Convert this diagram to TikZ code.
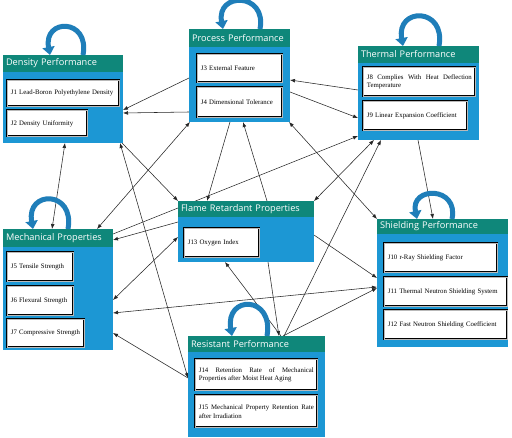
\documentclass[tikz,border=0pt]{standalone}
\usepackage{fontspec}
\setmainfont{Liberation Serif}
\newfontfamily\hdrfont{Open Sans}
\usetikzlibrary{arrows.meta,calc}
\pgfdeclarelayer{bg}
\pgfsetlayers{bg,main}
\definecolor{hdrteal}{HTML}{0F877A}
\definecolor{bodyblue}{HTML}{1C97D4}
\definecolor{loopblue}{HTML}{1F7EB9}
\newcommand\myitemfont{\fontsize{6.8}{8.8}\selectfont\hyphenpenalty=10000 \exhyphenpenalty=10000 \relax}
\begin{document}
\begin{tikzpicture}[x=1pt,y=-1pt,
 grp/.style={fill=bodyblue, inner sep=0pt, outer sep=0pt, anchor=north west},
 hdr/.style={fill=hdrteal, text=white, inner sep=0pt, inner xsep=3pt, outer sep=0pt, anchor=north west, align=left, font=\hdrfont\fontsize{9.2}{11}\selectfont},
 item/.style={draw=black, double=gray!55, double distance=0.7pt, line width=0.75pt, fill=white, inner sep=0pt, inner xsep=3.5pt, anchor=north west, font=\myitemfont, align=left},
 itemj/.style={item, align=justify},
 con/.style={draw=black!85, line width=0.55pt, -{Latex[length=5pt,width=3.8pt]}},
 bicon/.style={con, {Latex[length=5pt,width=3.8pt]}-{Latex[length=5pt,width=3.8pt]}},
 selfloop/.style={draw=loopblue, line width=5pt, -{Triangle[width=12pt,length=8pt]}}
]
\useasboundingbox (0,0) rectangle (512,438);
\begin{pgfonlayer}{bg}
\fill[white] (0,0) rectangle (512,438);
\end{pgfonlayer}

% groups
\node[grp, minimum width=120pt, minimum height=88pt] (dens) at (3,55) {};
\node[hdr, minimum height=17pt, text width=114pt] (densh) at (3,55) {Density Performance};
\node[grp, minimum width=101pt, minimum height=93pt] (proc) at (189,29) {};
\node[hdr, minimum height=18pt, text width=95pt] (proch) at (189,29) {Process Performance};
\node[grp, minimum width=121pt, minimum height=94pt] (therm) at (358,46) {};
\node[hdr, minimum height=17pt, text width=115pt] (thermh) at (358,46) {Thermal Performance};
\node[grp, minimum width=110pt, minimum height=121pt] (mech) at (3,229) {};
\node[hdr, minimum height=18pt, text width=104pt] (mechh) at (3,229) {Mechanical Properties};
\node[grp, minimum width=136pt, minimum height=61pt] (flame) at (178,201) {};
\node[hdr, minimum height=16pt, text width=130pt] (flameh) at (178,201) {Flame Retardant Properties};
\node[grp, minimum width=131pt, minimum height=128pt] (shield) at (377,219) {};
\node[hdr, minimum height=15pt, text width=125pt] (shieldh) at (377,219) {Shielding Performance};
\node[grp, minimum width=137pt, minimum height=101pt] (resist) at (188,336) {};
\node[hdr, minimum height=16pt, text width=131pt] (resisth) at (188,336) {Resistant Performance};

% items
\node[item, minimum width=112pt, minimum height=26pt, text width=105pt] (j1) at (7,80) {\mbox{J1 Lead-Boron Polyethylene Density}};
\node[item, minimum width=80pt, minimum height=26pt, text width=73pt] (j2) at (7,110) {\mbox{J2 Density Uniformity}};
\node[item, minimum width=85pt, minimum height=28pt, text width=78pt] (j3) at (197,54) {\mbox{J3 External Feature}};
\node[item, minimum width=85pt, minimum height=30pt, text width=78pt] (j4) at (197,87) {\mbox{J4 Dimensional Tolerance}};
\node[itemj, minimum width=112pt, minimum height=29pt, text width=105pt] (j8) at (363,67) {J8 Complies With Heat Deflection\linebreak Temperature};
\node[item, minimum width=104pt, minimum height=29pt, text width=97pt] (j9) at (363,101) {\mbox{J9 Linear Expansion Coefficient}};
\node[item, minimum width=66pt, minimum height=29pt, text width=59pt] (j5) at (7,252) {\mbox{J5 Tensile Strength}};
\node[item, minimum width=66pt, minimum height=29pt, text width=59pt] (j6) at (7,286) {\mbox{J6 Flexural Strength}};
\node[item, minimum width=77pt, minimum height=28pt, text width=70pt] (j7) at (7,319) {\mbox{J7 Compressive Strength}};
\node[item, minimum width=75pt, minimum height=29pt, text width=68pt] (j13) at (184,228) {\mbox{J13 Oxygen Index}};
\node[item, minimum width=113pt, minimum height=29pt, text width=106pt] (j10) at (384,243) {\mbox{J10 r-Ray Shielding Factor}};
\node[item, minimum width=123pt, minimum height=29pt, text width=116pt] (j11) at (384,277) {\mbox{J11 Thermal Neutron Shielding System}};
\node[item, minimum width=123pt, minimum height=29pt, text width=116pt] (j12) at (384,310) {\mbox{J12 Fast Neutron Shielding Coefficient}};
\node[itemj, minimum width=122pt, minimum height=31pt, text width=115pt] (j14) at (195,359) {J14 Retention Rate of Mechanical\linebreak Properties after Moist Heat Aging};
\node[itemj, minimum width=122pt, minimum height=32pt, text width=115pt] (j15) at (195,395) {J15 Mechanical Property Retention Rate\linebreak after Irradiation};

% self loops
\draw[selfloop] (densh.north -| 83,0) .. controls (90,18) and (43,18) .. (densh.north -| 50,0);
\draw[selfloop] (proch.north -| 260,0) .. controls (267,-8) and (216,-8) .. (proch.north -| 223,0);
\draw[selfloop] (thermh.north -| 439,0) .. controls (446,7) and (396,7) .. (thermh.north -| 403,0);
\draw[selfloop] (mechh.north -| 68,0) .. controls (75,190) and (26,190) .. (mechh.north -| 33,0);
\draw[selfloop] (shieldh.north -| 452,0) .. controls (459,186) and (410,186) .. (shieldh.north -| 417,0);
\draw[selfloop] (resisth.north -| 267,0) .. controls (274,295) and (225,295) .. (resisth.north -| 232,0);

% connectors
\begin{pgfonlayer}{bg}
\draw[con] (proc.west |- 0,78) -- (dens.east |- 0,110);
\draw[con] (proc.west |- 0,112) -- (dens.east |- 0,113);
\draw[bicon] (dens.south -| 65,0) -- (mech.north -| 52,0);
\draw[bicon] (dens.south -| 120,0) -- (resist.west |- 0,378);
\draw[con] (dens.south -| 122,0) -- (flame.north west);
\draw[bicon] (proc.south -| 190,0) -- (mech.north -| 97,0);
\draw[con] (proc.south -| 230,0) -- (flame.north -| 207,0);
\draw[con] (flame.north -| 267,0) -- (proc.south -| 243,0);
\draw[bicon] (proc.south -| 289,0) -- (shield.north west);
\draw[con] (therm.west |- 0,90) -- (proc.east |- 0,80);
\draw[con] (proc.east |- 0,92) -- (therm.west |- 0,118);
\draw[con] (mech.east |- 0,234) -- (therm.west |- 0,136);
\draw[bicon] (flame.north east) -- (therm.south -| 374,0);
\draw[con] (resist.north -| 284,0) -- (therm.south -| 381,0);
\draw[con] (therm.south -| 418,0) -- (shield.north -| 433,0);
\draw[con] (flame.west |- 0,222) -- (mech.east |- 0,240);
\draw[bicon] (flame.west |- 0,237) -- (mech.east |- 0,300);
\draw[con] (flame.east |- 0,235) -- (shield.west |- 0,278);
\draw[bicon] (mech.east |- 0,313) -- (shield.west |- 0,287);
\draw[con] (resist.north -| 283,0) -- (shield.west |- 0,288);
\draw[con] (flame.south -| 268,0) -- (resist.north -| 279,0);
\draw[con] (resist.north -| 281,0) -- (flame.south -| 225,0);
\draw[con] (resist.west |- 0,378) -- (mech.east |- 0,333);
\end{pgfonlayer}
\end{tikzpicture}
\end{document}
